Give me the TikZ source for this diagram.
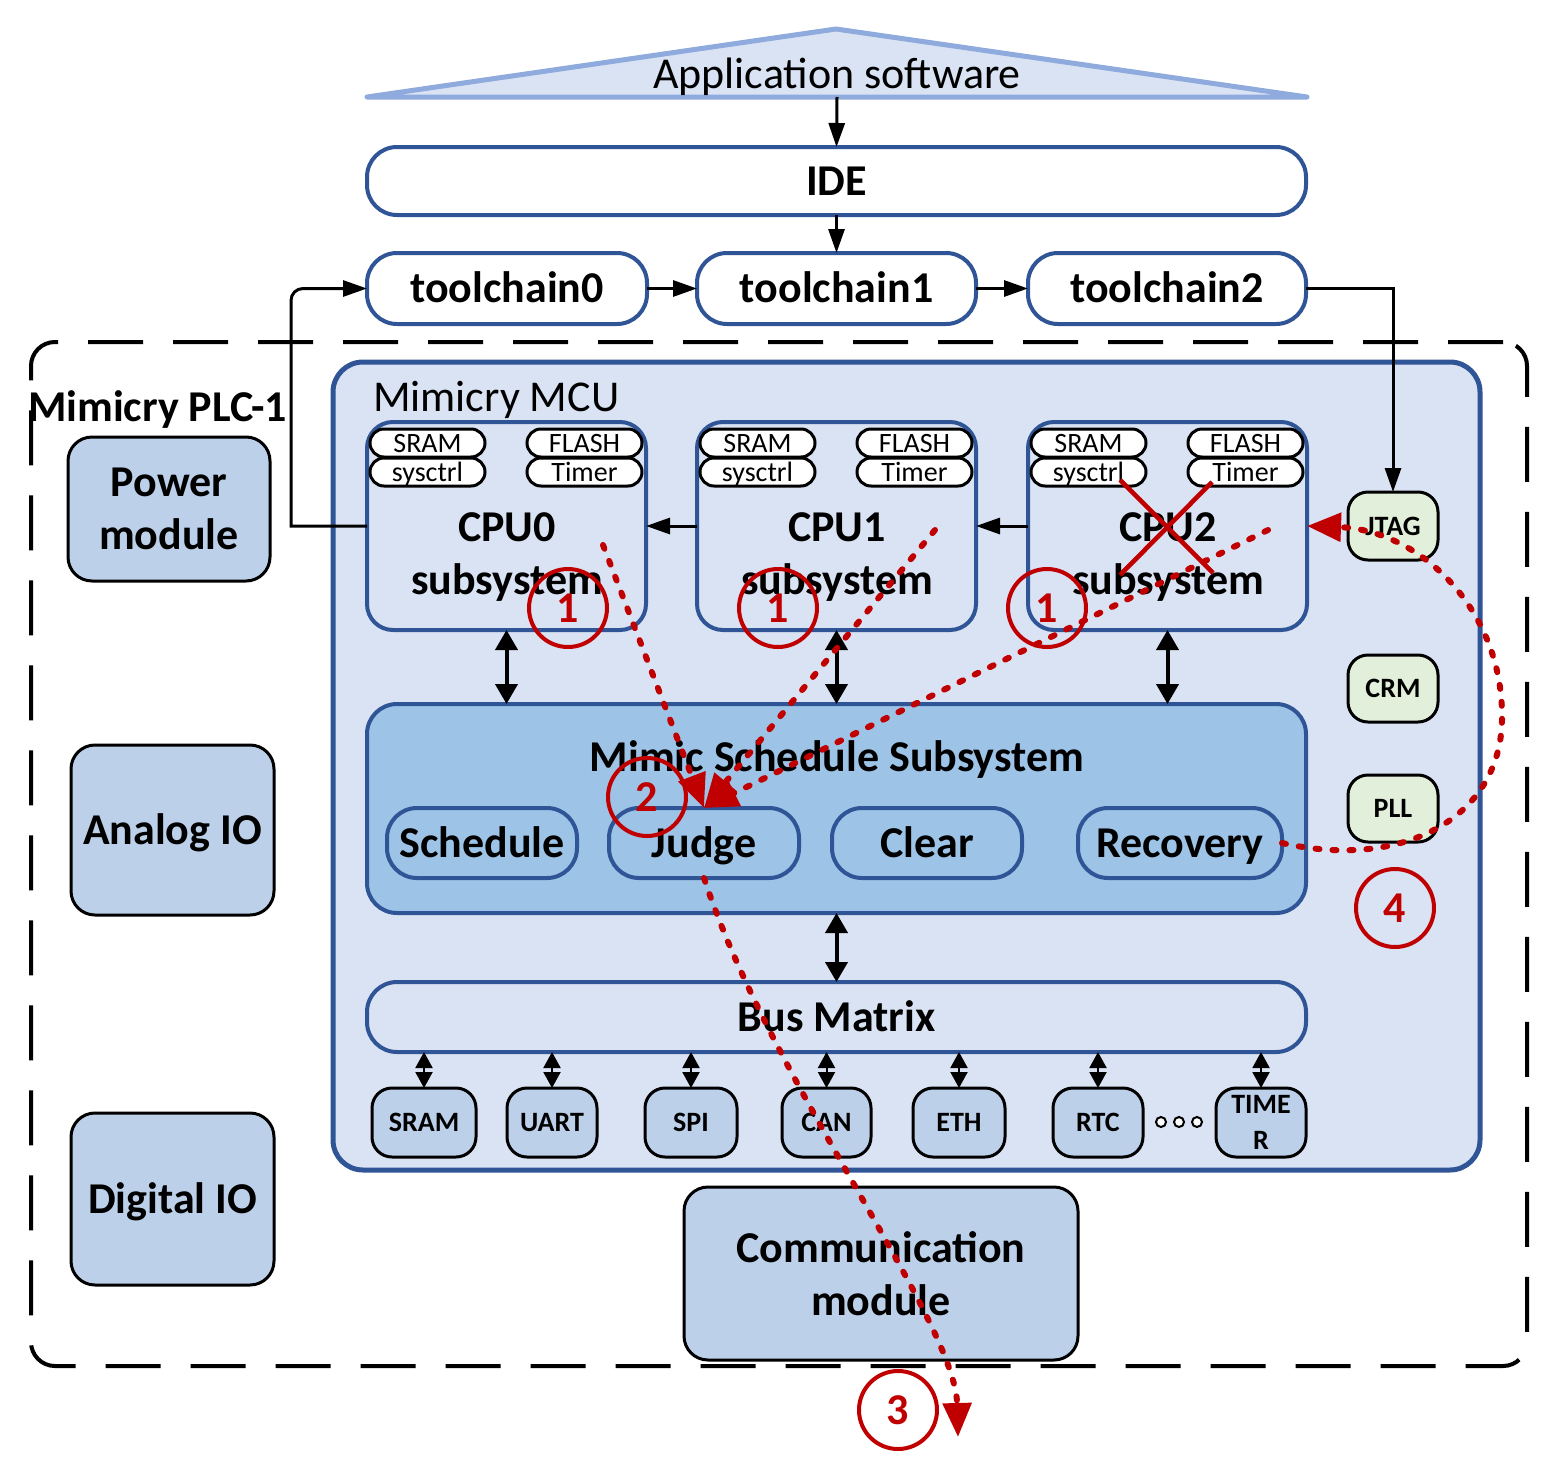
\documentclass[tikz,border=0pt]{standalone}
\usepackage{fontspec}
\setmainfont{Carlito}
\usetikzlibrary{arrows.meta}
\definecolor{myblue}{HTML}{2F5597}
\definecolor{lightbg}{HTML}{DAE3F3}
\definecolor{midblue}{HTML}{9DC3E6}
\definecolor{modblue}{HTML}{BDD0E9}
\definecolor{lgreen}{HTML}{E2EFDA}
\definecolor{tri}{HTML}{8FAADC}
\definecolor{myred}{HTML}{C00000}
\newcommand\bigf{\fontsize{22pt}{26.5pt}\selectfont}
\newcommand\smallf{\fontsize{14pt}{18pt}\selectfont}
\newcommand\bx[7]{\node[#2, minimum width={((#5)-(#3))*0.5pt}, minimum height={((#6)-(#4))*0.5pt}] (#1) at ({((#3)+(#5))/2},{((#4)+(#6))/2}) {#7};}
\newcommand\cpubox[2]{%
  \bx{cpu#1}{cpub}{#2}{422}{#2+279}{630}{}
  \node[font=\bigf\bfseries, align=center] (cpu#1t) at ({#2+140},557) {CPU#1\\subsystem};
  \bx{sram#1}{pill}{#2+3}{429}{#2+118}{457}{SRAM}
  \bx{sysc#1}{pill}{#2+3}{458}{#2+118}{486}{sysctrl}
  \bx{flash#1}{pill}{#2+160}{429}{#2+275}{457}{FLASH}
  \bx{timer#1}{pill}{#2+160}{458}{#2+275}{486}{Timer}
}
\tikzset{
  every node/.style={inner sep=0pt, outer sep=0pt},
  bctr/.style={text height=14.2pt, text depth=0pt},
  sctr/.style={text height=9pt, text depth=0pt},
  plcframe/.style={draw=black, line width=2pt, dash pattern=on 27.5pt off 15pt, rounded corners=12pt},
  mcubox/.style={draw=myblue, line width=2.5pt, fill=lightbg, rounded corners=15pt},
  topbox/.style={draw=myblue, line width=2pt, fill=white, rounded corners=15pt, font=\bigf\bfseries, bctr},
  cpub/.style={draw=myblue, line width=2pt, rounded corners=13pt},
  mssbox/.style={draw=myblue, line width=2pt, fill=midblue, rounded corners=15pt},
  bmbox/.style={draw=myblue, line width=2pt, fill=lightbg, rounded corners=15pt, font=\bigf\bfseries, bctr},
  innerpill/.style={draw=myblue, line width=2pt, rounded corners=15pt, font=\bigf\bfseries, bctr},
  modbox/.style={draw=black, line width=1.5pt, fill=modblue, rounded corners=12pt, font=\bigf\bfseries, align=center},
  pill/.style={draw=black, line width=1.5pt, fill=white, rounded corners=7pt, font=\smallf, sctr},
  periph/.style={draw=black, line width=1.5pt, fill=modblue, rounded corners=10pt, font=\smallf\bfseries, align=center},
  gbox/.style={draw=black, line width=1.5pt, fill=lgreen, rounded corners=10pt, font=\smallf\bfseries, sctr},
  arr/.style={line width=1.5pt, -{Triangle[length=12pt,width=8pt]}},
  dbl/.style={line width=2pt, {Triangle[length=10pt,width=11pt]}-{Triangle[length=10pt,width=11pt]}},
  sdbl/.style={line width=1pt, {Triangle[length=8pt,width=8.5pt]}-{Triangle[length=8pt,width=8.5pt]}},
  reddot/.style={draw=myred, line width=3pt, dash pattern=on 2pt off 6.5pt, line cap=round},
  redarr/.style={reddot, -{Triangle[length=17pt,width=14pt]}},
  num/.style={circle, draw=myred, line width=2pt, minimum size=39pt, text=myred, font=\bigf\bfseries, bctr},
  dot/.style={circle, draw=black, line width=1pt, fill=white, minimum size=5pt},
}
\begin{document}
\begin{tikzpicture}[x=0.5pt,y=-0.5pt]
\useasboundingbox (0,0) rectangle (1547,1467);
% outer frame
\bx{plc}{plcframe}{31}{342}{1527}{1366}{}
\node[font=\bigf\bfseries, anchor=base west] (plcl) at (28,421) {Mimicry PLC-1};
% modules
\bx{power}{modbox}{68}{437}{270}{581}{Power\\module}
\bx{analog}{modbox, bctr}{71}{745}{274}{915}{Analog IO}
\bx{digital}{modbox, bctr}{71}{1113}{274}{1285}{Digital IO}
\bx{comm}{modbox}{684}{1187}{1078}{1360}{Communication\\module}
% MCU
\bx{mcu}{mcubox}{333}{362}{1480}{1170}{}
\node[font=\bigf, anchor=base west] (mcul) at (373,411) {Mimicry MCU};
% application software
\draw[fill=lightbg, draw=tri, line width=2.5pt, line join=round] (367,97) -- (836,29) -- (1307,97) -- cycle;
\node[font=\bigf, anchor=base] (app) at (837,88) {Application software};
\coordinate (appb) at (837,97);
% IDE and toolchains
\bx{ide}{topbox}{367}{147}{1306}{215}{IDE}
\bx{tc0}{topbox}{367}{253}{647}{324}{toolchain0}
\bx{tc1}{topbox}{697}{253}{976}{324}{toolchain1}
\bx{tc2}{topbox}{1028}{253}{1306}{324}{toolchain2}
% CPUs
\cpubox{0}{367}
\cpubox{1}{697}
\cpubox{2}{1028}
% Mimic schedule subsystem
\bx{mss}{mssbox}{367}{704}{1306}{913}{}
\node[font=\bigf\bfseries, bctr] (msst) at (837,757) {Mimic Schedule Subsystem};
\bx{sched}{innerpill}{387}{808}{577}{878}{Schedule}
\bx{judge}{innerpill}{609}{808}{799}{878}{Judge}
\bx{clear}{innerpill}{832}{808}{1022}{878}{Clear}
\bx{rec}{innerpill}{1078}{808}{1282}{878}{Recovery}
% Bus matrix
\bx{bm}{bmbox}{367}{982}{1306}{1052}{Bus Matrix}
% peripherals
\bx{pSRAM}{periph, sctr}{372}{1088}{476}{1157}{SRAM}
\bx{pUART}{periph, sctr}{507}{1088}{597}{1157}{UART}
\bx{pSPI}{periph, sctr}{645}{1088}{737}{1157}{SPI}
\bx{pCAN}{periph, sctr}{782}{1088}{871}{1157}{CAN}
\bx{pETH}{periph, sctr}{913}{1088}{1005}{1157}{ETH}
\bx{pRTC}{periph, sctr}{1053}{1088}{1143}{1157}{RTC}
\bx{pTIM}{periph}{1216}{1088}{1306}{1157}{TIME\\R}
\node[dot] (d1) at (1161,1122) {};
\node[dot] (d2) at (1179,1122) {};
\node[dot] (d3) at (1197,1122) {};
% clock/debug blocks
\bx{jtag}{gbox}{1348}{492}{1438}{560}{JTAG}
\bx{crm}{gbox}{1348}{655}{1438}{722}{CRM}
\bx{pll}{gbox}{1348}{775}{1438}{842}{PLL}
% black connectors
\draw[arr] (appb) -- (ide.north);
\draw[arr] (ide.south) -- (tc1.north);
\draw[arr] (tc0.east) -- (tc1.west);
\draw[arr] (tc1.east) -- (tc2.west);
\draw[arr] (tc2.east) -| (jtag.north);
\coordinate (lc) at (291,526);
\draw[arr] (cpu0.west) -- (lc) [rounded corners=6pt] |- (tc0.west);
\draw[arr] (cpu1.west) -- (cpu0.east);
\draw[arr] (cpu2.west) -- (cpu1.east);
\draw[dbl] (cpu0.south) -- (cpu0.south |- mss.north);
\draw[dbl] (cpu1.south) -- (cpu1.south |- mss.north);
\draw[dbl] (cpu2.south) -- (cpu2.south |- mss.north);
\draw[dbl] (mss.south) -- (bm.north);
\foreach \p in {pSRAM,pUART,pSPI,pCAN,pETH,pRTC,pTIM}
  \draw[sdbl] (\p.north |- bm.south) -- (\p.north);
% red cross over CPU2
\draw[myred, line width=2.3pt] (1120,480) -- (1213,573);
\draw[myred, line width=2.3pt] (1212,482) -- (1120,575);
% red dotted arrows
\coordinate (r0) at (603,545);
\coordinate (r1) at (935,530);
\coordinate (r2) at (1268,530);
\coordinate (e3) at (958,1437);
\draw[redarr] (r0) -- (judge.north);
\draw[redarr] (r1) -- (judge.north);
\draw[redarr] (r2) -- (judge.north);
\draw[redarr] (judge.south) .. controls (770,1080) and (955,1320) .. (e3);
\draw[redarr] (rec.east) .. controls (1400,870) and (1500,820) .. (1502,720) .. controls (1504,610) and (1420,530) .. (cpu2.east);
% numbered circles
\node[num] (n1a) at (568,608) {1};
\node[num] (n1b) at (778,608) {1};
\node[num] (n1c) at (1047,608) {1};
\node[num] (n2) at (647,797) {2};
\node[num] (n3) at (898,1410) {3};
\node[num] (n4) at (1395,908) {4};
\end{tikzpicture}
\end{document}
